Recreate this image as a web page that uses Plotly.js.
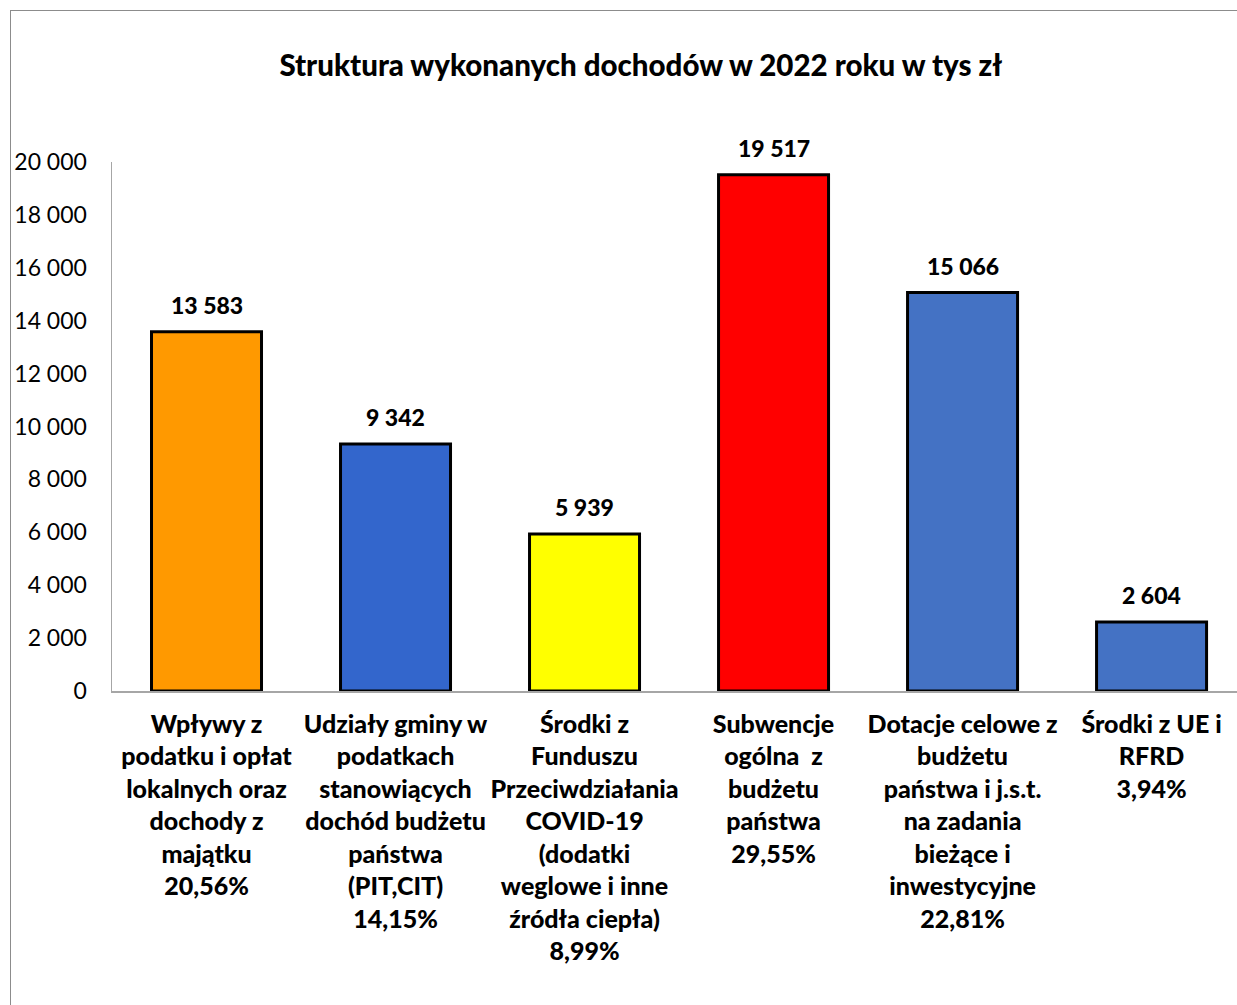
<!DOCTYPE html>
<html>
<head>
<meta charset="utf-8">
<script src="https://cdn.plot.ly/plotly-3.0.1.min.js"></script>
<style>
  body { margin: 0; background: #fff; }
  #frame { position: absolute; left: 10px; top: 10px; width: 1260px; height: 1010px; border: 1.5px solid #8c8c8c; }
  #chart { position: absolute; left: 0; top: 0; width: 1237px; height: 1005px; }
</style>
</head>
<body>
<div id="frame"></div>
<div id="chart"></div>
<script>
const categories = [
    ['Wpływy z', 'podatku i opłat', 'lokalnych oraz', 'dochody z', 'majątku'],
    ['Udziały gminy w', 'podatkach', 'stanowiących', 'dochód budżetu', 'państwa', '(PIT,CIT)'],
    ['Środki z', 'Funduszu', 'Przeciwdziałania', 'COVID-19', '(dodatki', 'weglowe i inne', 'źródła ciepła)'],
    ['Subwencje', 'ogólna  z', 'budżetu', 'państwa'],
    ['Dotacje celowe z', 'budżetu', 'państwa i j.s.t.', 'na zadania', 'bieżące i', 'inwestycyjne'],
    ['Środki z UE i', 'RFRD']
];
const shares = ['20,56%', '14,15%', '8,99%', '29,55%', '22,81%', '3,94%'];
const values = [13583, 9342, 5939, 19517, 15066, 2604];
const barColors = ['#FF9900', '#3366CC', '#FFFF00', '#FF0000', '#4472C4', '#4472C4'];

const fmt = (v) => String(v).replace(/\B(?=(\d{3})+(?!\d))/g, ' ');

const tickText = categories.map((lines, i) =>
    lines.concat([shares[i]])
        .map((l) => l.replace(/  /g, '&nbsp; '))
        .join('<br>')
);
const xs = categories.map((c, i) => i);

const bars = {
    type: 'bar',
    x: xs,
    y: values,
    width: 0.582,
    marker: {
        color: barColors,
        line: { color: '#000000', width: 3 }
    },
    hoverinfo: 'none'
};

const labels = values.map((v, i) => ({
    x: i,
    y: v,
    yanchor: 'bottom',
    yshift: 11,
    text: fmt(v),
    showarrow: false,
    font: { family: 'Lato, sans-serif', size: 23, color: '#000', weight: 900 }
}));

const layout = {
    width: 1237,
    height: 1005,
    margin: { l: 112, r: 0, t: 162, b: 314 },
    paper_bgcolor: 'rgba(0,0,0,0)',
    plot_bgcolor: 'rgba(0,0,0,0)',
    separators: ', ',
    showlegend: false,
    font: { family: 'Lato, sans-serif', color: '#000' },
    title: {
        text: 'Struktura wykonanych dochodów w 2022 roku w tys zł',
        font: { family: 'Lato, sans-serif', size: 29.5, color: '#000', weight: 900 },
        xref: 'container',
        x: 0.518,
        xanchor: 'center',
        yref: 'container',
        y: 1 - 66 / 1005,
        yanchor: 'middle'
    },
    xaxis: {
        range: [-0.5, 5.452],
        tickmode: 'array',
        tickvals: xs,
        ticktext: tickText,
        tickfont: { family: 'Lato, sans-serif', size: 25, color: '#000', weight: 900 },
        ticks: '',
        showline: true,
        linecolor: '#a6a6a6',
        linewidth: 1.5,
        showgrid: false,
        zeroline: false,
        ticklabelstandoff: 10
    },
    yaxis: {
        range: [0, 20000],
        tickmode: 'linear',
        tick0: 0,
        dtick: 2000,
        tickformat: ',d',
        tickfont: { family: 'Lato, sans-serif', size: 23, color: '#000' },
        ticks: '',
        showline: true,
        linecolor: '#a6a6a6',
        linewidth: 1.5,
        showgrid: false,
        zeroline: false,
        ticklabelstandoff: 19
    },
    annotations: labels
};

Plotly.newPlot('chart', [bars], layout, { staticPlot: true });
</script>
</body>
</html>
